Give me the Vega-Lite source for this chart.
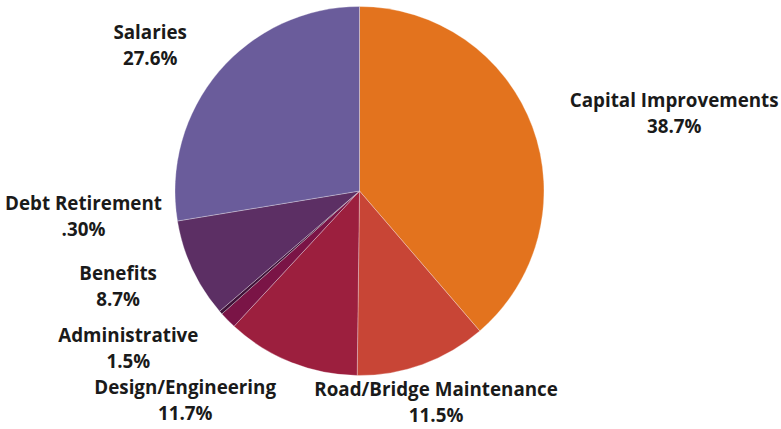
{
  "$schema": "https://vega.github.io/schema/vega-lite/v6.json",
  "width": 719,
  "height": 382,
  "autosize": "none",
  "padding": {"left": 0, "top": 0, "right": 62, "bottom": 47},
  "background": "white",
  "view": {"stroke": null},
  "config": {"text": {"font": "Open Sans", "fontWeight": "bold", "fontSize": 18.8, "lineBreak": "\n", "lineHeight": 26, "align": "center", "baseline": "middle", "color": "#1a1a1a"}},
  "data": {
    "values": [
      {"category": "Capital Improvements", "value": 38.7, "share": "38.7%", "order": 1},
      {"category": "Road/Bridge Maintenance", "value": 11.5, "share": "11.5%", "order": 2},
      {"category": "Design/Engineering", "value": 11.7, "share": "11.7%", "order": 3},
      {"category": "Administrative", "value": 1.5, "share": "1.5%", "order": 4},
      {"category": "Debt Retirement", "value": 0.3, "share": ".30%", "order": 5},
      {"category": "Benefits", "value": 8.7, "share": "8.7%", "order": 6},
      {"category": "Salaries", "value": 27.6, "share": "27.6%", "order": 7}
    ]
  },
  "transform": [{"calculate": "datum.category + '\\n' + datum.share", "as": "label"}],
  "encoding": {
    "theta": {"field": "value", "type": "quantitative", "stack": true},
    "order": {"field": "order", "type": "quantitative"}
  },
  "layer": [
    {
      "mark": {"type": "arc", "outerRadius": 184.5, "stroke": "white", "strokeWidth": 0.3},
      "encoding": {
        "color": {
          "field": "category",
          "type": "nominal",
          "legend": null,
          "scale": {
            "domain": ["Capital Improvements", "Road/Bridge Maintenance", "Design/Engineering", "Administrative", "Debt Retirement", "Benefits", "Salaries"],
            "range": ["#E3731E", "#C84536", "#9C1F3E", "#7A1446", "#3E1238", "#5C2F64", "#6A5C9B"]
          }
        }
      }
    },
    {
      "mark": {"type": "text", "radius": 230, "dx": 99, "dy": -10},
      "encoding": {"detail": {"field": "category"}, "text": {"field": "label"}, "opacity": {"condition": {"test": "datum.category === 'Capital Improvements'", "value": 1}, "value": 0}}
    },
    {
      "mark": {"type": "text", "radius": 230, "dx": -2, "dy": -17},
      "encoding": {"detail": {"field": "category"}, "text": {"field": "label"}, "opacity": {"condition": {"test": "datum.category === 'Road/Bridge Maintenance'", "value": 1}, "value": 0}}
    },
    {
      "mark": {"type": "text", "radius": 230, "dx": -89, "dy": -17},
      "encoding": {"detail": {"field": "category"}, "text": {"field": "label"}, "opacity": {"condition": {"test": "datum.category === 'Design/Engineering'", "value": 1}, "value": 0}}
    },
    {
      "mark": {"type": "text", "radius": 230, "dx": -67, "dy": -16},
      "encoding": {"detail": {"field": "category"}, "text": {"field": "label"}, "opacity": {"condition": {"test": "datum.category === 'Administrative'", "value": 1}, "value": 0}}
    },
    {
      "mark": {"type": "text", "radius": 230, "dx": -103, "dy": -139},
      "encoding": {"detail": {"field": "category"}, "text": {"field": "label"}, "opacity": {"condition": {"test": "datum.category === 'Debt Retirement'", "value": 1}, "value": 0}}
    },
    {
      "mark": {"type": "text", "radius": 230, "dx": -33, "dy": -14},
      "encoding": {"detail": {"field": "category"}, "text": {"field": "label"}, "opacity": {"condition": {"test": "datum.category === 'Benefits'", "value": 1}, "value": 0}}
    },
    {
      "mark": {"type": "text", "radius": 230, "dx": -34, "dy": -9},
      "encoding": {"detail": {"field": "category"}, "text": {"field": "label"}, "opacity": {"condition": {"test": "datum.category === 'Salaries'", "value": 1}, "value": 0}}
    }
  ]
}
